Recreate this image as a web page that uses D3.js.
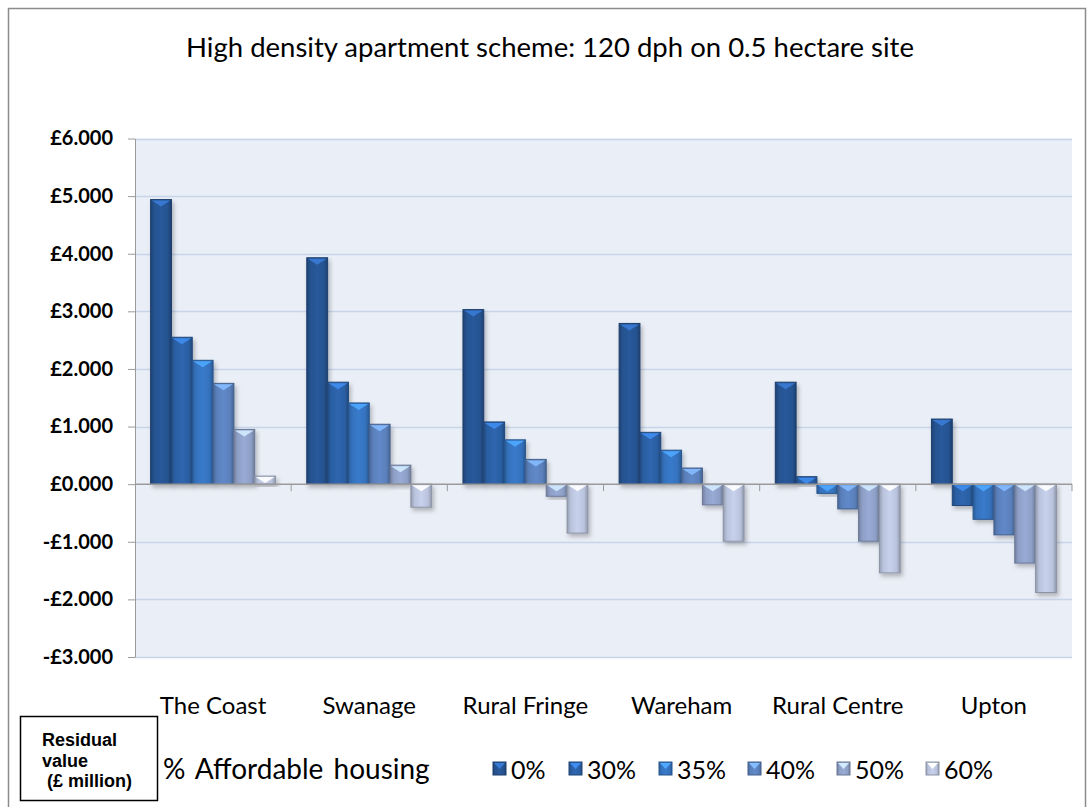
<!DOCTYPE html>
<html>
<head>
<meta charset="utf-8">
<script src="https://cdn.jsdelivr.net/npm/d3@7"></script>
<style>
  body { margin: 0; background: #fff; }
  text { font-family: Lato, "Open Sans", sans-serif; }
</style>
</head>
<body>
<svg id="chart"></svg>
<script>
// data
var categories = ['The Coast', 'Swanage', 'Rural Fringe', 'Wareham', 'Rural Centre', 'Upton'];
var seriesNames = ['0%', '30%', '35%', '40%', '50%', '60%'];
var v0 = [4.94, 3.93, 3.03, 2.79, 1.77, 1.13];
var v30 = [2.55, 1.77, 1.08, 0.90, 0.13, -0.37];
var v35 = [2.15, 1.41, 0.77, 0.59, -0.16, -0.61];
var v40 = [1.75, 1.04, 0.43, 0.28, -0.43, -0.88];
var v50 = [0.95, 0.33, -0.21, -0.36, -0.99, -1.37];
var v60 = [0.14, -0.40, -0.85, -0.99, -1.54, -1.88];
var yTicks = [6, 5, 4, 3, 2, 1, 0, -1, -2, -3];
var colors = ['#265390', '#2b5fa3', '#3572bd', '#5a80bb', '#8e9fc6', '#b9c3dc'];

var seriesValues = [v0, v30, v35, v40, v50, v60];
var rows = categories.map(function (c, i) {
  return { cat: c, vals: seriesValues.map(function (s, j) { return { key: seriesNames[j], idx: j, value: s[i] }; }) };
});

var width = 1092;
var height = 807;
var plotLeft = 135, plotRight = 1072, plotTop = 138.5, plotBottom = 657;

var svg = d3.select('#chart')
    .attr('width', width)
    .attr('height', height);

var defs = svg.append('defs');
colors.forEach(function (c, i) {
  var g = defs.append('linearGradient').attr('id', 'g' + i).attr('x1', 0).attr('x2', 1).attr('y1', 0).attr('y2', 0);
  g.append('stop').attr('offset', '0%').attr('stop-color', d3.color(c).darker(0.6));
  g.append('stop').attr('offset', '18%').attr('stop-color', c);
  g.append('stop').attr('offset', '50%').attr('stop-color', d3.color(c).brighter(0.2));
  g.append('stop').attr('offset', '82%').attr('stop-color', c);
  g.append('stop').attr('offset', '100%').attr('stop-color', d3.color(c).darker(0.7));
});
var sh = defs.append('filter').attr('id', 'shadow').attr('x', '-20%').attr('y', '-20%').attr('width', '150%').attr('height', '150%');
sh.append('feDropShadow').attr('dx', 2).attr('dy', 3).attr('stdDeviation', 2).attr('flood-color', '#000').attr('flood-opacity', 0.25);

// outer chart border
svg.append('rect')
    .attr('x', 8.5).attr('y', 8.5)
    .attr('width', 1077).attr('height', 820)
    .attr('fill', 'none').attr('stroke', '#8c8c8c').attr('stroke-width', 1.5);

svg.append('text')
    .attr('x', 550).attr('y', 57)
    .attr('text-anchor', 'middle')
    .style('font-size', '27.5px')
    .text('High density apartment scheme: 120 dph on 0.5 hectare site');

var x0 = d3.scaleBand().domain(categories).range([plotLeft, plotRight]).padding(0);
var x1 = d3.scaleBand().domain(seriesNames).range([0, x0.bandwidth()]).paddingInner(0).paddingOuter(0.75);
var y = d3.scaleLinear().domain([-3, 6]).range([plotBottom, plotTop]);

// plot area
svg.append('rect')
    .attr('x', plotLeft).attr('y', plotTop)
    .attr('width', plotRight - plotLeft).attr('height', plotBottom - plotTop)
    .attr('fill', '#eaeef6');

svg.append('g')
    .selectAll('line')
    .data(yTicks.filter(function (d) { return d !== 0; }))
    .enter()
    .append('line')
    .attr('x1', plotLeft).attr('x2', plotRight)
    .attr('y1', function (d) { return Math.round(y(d)) + 0.5; })
    .attr('y2', function (d) { return Math.round(y(d)) + 0.5; })
    .attr('stroke', '#c7d5ea').attr('stroke-width', 1.5);

var yAxis = d3.axisLeft(y)
    .tickValues(yTicks)
    .tickSize(7)
    .tickSizeOuter(0)
    .tickPadding(15)
    .tickFormat(function (d) { return (d < 0 ? '-£' : '£') + Math.abs(d).toFixed(3); });

var yg = svg.append('g')
    .attr('transform', 'translate(' + plotLeft + ',0)')
    .call(yAxis);
yg.select('.domain').attr('stroke', '#9a9a9a');
yg.selectAll('.tick line').attr('stroke', '#9a9a9a');
yg.selectAll('.tick text')
    .style('font-family', 'Lato, sans-serif')
    .style('font-size', '20px')
    .style('font-weight', 'bold')
    .attr('fill', '#000');

// bars
var groups = svg.append('g')
    .selectAll('g')
    .data(rows)
    .enter()
    .append('g')
    .attr('transform', function (d) { return 'translate(' + x0(d.cat) + ',0)'; });

var bar = groups.selectAll('g')
    .data(function (d) { return d.vals; })
    .enter()
    .append('g')
    .attr('filter', 'url(#shadow)');

var bw = x1.bandwidth();
bar.append('rect')
    .attr('x', function (d) { return x1(d.key); })
    .attr('y', function (d) { return y(Math.max(0, d.value)); })
    .attr('width', bw)
    .attr('height', function (d) { return Math.abs(y(d.value) - y(0)); })
    .attr('fill', function (d) { return 'url(#g' + d.idx + ')'; })
    .attr('stroke', function (d) { return d3.color(colors[d.idx]).darker(0.8); })
    .attr('stroke-width', 1);

// bevel highlight at the top of each bar
bar.append('path')
    .attr('d', function (d) {
      var xa = x1(d.key), ya = y(Math.max(0, d.value));
      var h = Math.min(7, Math.abs(y(d.value) - y(0)));
      return 'M' + (xa + 1) + ',' + (ya + 1) + 'L' + (xa + bw - 1) + ',' + (ya + 1) + 'L' + (xa + bw / 2) + ',' + (ya + h) + 'Z';
    })
    .attr('fill', function (d) { return d3.color(colors[d.idx]).brighter(1.1); })
    .attr('opacity', 0.9);

// zero line and category ticks
svg.append('line')
    .attr('x1', plotLeft).attr('x2', plotRight)
    .attr('y1', y(0)).attr('y2', y(0))
    .attr('stroke', '#9a9a9a').attr('stroke-width', 1.5);
svg.append('g')
    .selectAll('line')
    .data(categories)
    .enter()
    .append('line')
    .attr('x1', function (d) { return x0(d) + x0.bandwidth(); })
    .attr('x2', function (d) { return x0(d) + x0.bandwidth(); })
    .attr('y1', y(0)).attr('y2', y(0) + 7)
    .attr('stroke', '#9a9a9a');

var xAxis = d3.axisBottom(x0).tickSize(0).tickSizeOuter(0);
var xg = svg.append('g')
    .attr('transform', 'translate(0,' + 694 + ')')
    .call(xAxis);
xg.select('.domain').remove();
xg.selectAll('.tick text')
    .style('font-family', 'Lato, sans-serif')
    .style('font-size', '24px')
    .attr('fill', '#000');

// legend
svg.append('text')
    .attr('x', 163).attr('y', 779)
    .style('font-size', '28px')
    .style('word-spacing', '3px')
    .text('% Affordable housing');

var legendX = [493, 569, 659, 748, 837, 926];
var leg = svg.append('g')
    .selectAll('g')
    .data(seriesNames)
    .enter()
    .append('g')
    .attr('transform', function (d, i) { return 'translate(' + legendX[i] + ',762)'; });
leg.append('rect')
    .attr('width', 13).attr('height', 13)
    .attr('fill', function (d, i) { return 'url(#g' + i + ')'; })
    .attr('stroke', function (d, i) { return d3.color(colors[i]).darker(0.8); });
leg.append('path')
    .attr('d', 'M1,1L12,1L6.5,7Z')
    .attr('fill', function (d, i) { return d3.color(colors[i]).brighter(1.1); });
leg.append('text')
    .attr('x', 18).attr('y', 17)
    .style('font-size', '25px')
    .text(function (d) { return d; });

// y-axis title box
svg.append('rect')
    .attr('x', 20.5).attr('y', 716.5)
    .attr('width', 137).attr('height', 84)
    .attr('fill', '#fff').attr('stroke', '#000').attr('stroke-width', 1.5);
var boxLines = ['Residual', 'value', '(£ million)'];
svg.append('text')
    .attr('x', 42).attr('y', 746)
    .style('font-family', '"Liberation Sans", Arial, sans-serif')
    .style('font-size', '18px')
    .style('font-weight', 'bold')
    .selectAll('tspan')
    .data(boxLines)
    .enter()
    .append('tspan')
    .attr('x', function (d, i) { return i === 2 ? 47 : 42; })
    .attr('dy', function (d, i) { return i === 0 ? 0 : 20.5; })
    .text(function (d) { return d; });
</script>
</body>
</html>
